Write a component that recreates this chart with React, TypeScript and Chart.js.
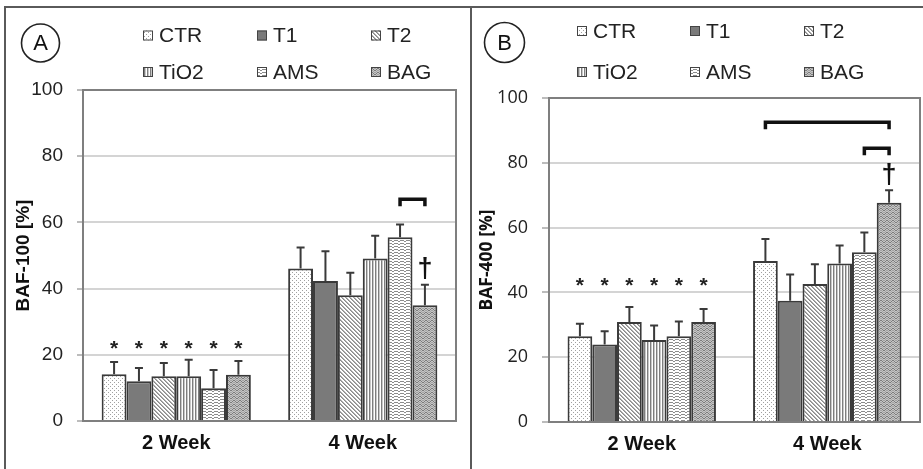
import React, { useEffect, useRef } from "react";
import { Chart, registerables } from "chart.js";

Chart.register(...registerables);

// ---------- data ----------
const categories = ["2 Week", "4 Week"];
const seriesNames = ["CTR", "T1", "T2", "TiO2", "AMS", "BAG"];
const yMin = 0;
const yMax = 100;
const yStep = 20;

// Panel A: BAF-100 [%]  (mean, SD) for [2 Week, 4 Week]
const ctrA = [14.1, 46.1];
const t1A = [12.0, 42.3];
const t2A = [13.5, 38.0];
const tio2A = [13.5, 49.1];
const amsA = [9.9, 55.5];
const bagA = [14.0, 35.0];
const ctrAsd = [3.7, 6.3];
const t1Asd = [4.0, 9.0];
const t2Asd = [4.0, 6.8];
const tio2Asd = [5.0, 6.9];
const amsAsd = [5.5, 3.9];
const bagAsd = [4.1, 6.2];

// Panel B: BAF-400 [%]
const ctrB = [26.5, 49.7];
const t1B = [23.9, 37.4];
const t2B = [30.9, 42.6];
const tio2B = [25.3, 48.9];
const amsB = [26.5, 52.4];
const bagB = [30.9, 67.7];
const ctrBsd = [3.8, 6.8];
const t1Bsd = [4.1, 8.1];
const t2Bsd = [4.6, 6.1];
const tio2Bsd = [4.5, 5.6];
const amsBsd = [4.5, 6.1];
const bagBsd = [4.0, 3.8];

// significance marks
const starLevelA = 23; // "*" above every 2 Week bar
const starLevelB = 43;
const daggerA = { series: 5, category: 1, value: 46 };
const daggerB = { series: 5, category: 1, value: 76.5 };
const bracketsA = [{ from: 4, to: 5, category: 1, value: 67 }];
const bracketsB = [
  { from: 0, to: 5, category: 1, value: 92.5 },
  { from: 4, to: 5, category: 1, value: 84.5 },
];

// ---------- styles ----------
const ARIAL = '"Liberation Sans", Arial, sans-serif';
const OPEN = '"Open Sans", "Noto Sans", sans-serif';
const patternKinds = ["dots", "solid", "diag", "vert", "hwave", "zigzag"];

function makePattern(kind: string): CanvasPattern | string {
  const c = document.createElement("canvas");
  const g = c.getContext("2d")!;
  const px = (x: number, y: number, col: string) => {
    g.fillStyle = col;
    g.fillRect(x, y, 1, 1);
  };
  if (kind === "solid") return "#7a7a7a";
  if (kind === "dots") {
    c.width = 4; c.height = 4;
    g.fillStyle = "#fff"; g.fillRect(0, 0, 4, 4);
    px(0, 0, "#a0a0a0"); px(2, 2, "#a0a0a0");
  } else if (kind === "diag") {
    c.width = 4; c.height = 4;
    g.fillStyle = "#fff"; g.fillRect(0, 0, 4, 4);
    for (let i = 0; i < 4; i++) { px(i, i, "#8a8a8a"); px((i + 1) % 4, i, "#b0b0b0"); }
  } else if (kind === "vert") {
    c.width = 3; c.height = 1;
    g.fillStyle = "#fff"; g.fillRect(0, 0, 3, 1);
    px(0, 0, "#7e7e7e"); px(1, 0, "#c8c8c8");
  } else if (kind === "hwave") {
    c.width = 6; c.height = 3;
    g.fillStyle = "#fff"; g.fillRect(0, 0, 6, 3);
    const off = [0, 0, 1, 1, 0, 0];
    for (let x = 0; x < 6; x++) px(x, off[x], "#8c8c8c");
  } else {
    c.width = 6; c.height = 4;
    g.fillStyle = "#c4c4c4"; g.fillRect(0, 0, 6, 4);
    const off = [0, 1, 2, 2, 1, 0];
    for (let x = 0; x < 6; x++) { px(x, off[x], "#7c7c7c"); px(x, (off[x] + 2) % 4, "#a4a4a4"); }
  }
  return g.createPattern(c, "repeat")!;
}

type Panel = {
  values: number[][];
  errors: number[][];
  yTitle: string;
  letter: string;
  starLevel: number;
  dagger: { series: number; category: number; value: number };
  brackets: { from: number; to: number; category: number; value: number }[];
  style: any;
};

const panelA: Panel = {
  values: [ctrA, t1A, t2A, tio2A, amsA, bagA],
  errors: [ctrAsd, t1Asd, t2Asd, tio2Asd, amsAsd, bagAsd],
  yTitle: "BAF-100 [%]",
  letter: "A",
  starLevel: starLevelA,
  dagger: daggerA,
  brackets: bracketsA,
  style: {
    left: 0, width: 470,
    padTop: 90, padRight: 14, yWidth: 83, xHeight: 48,
    tickFont: { family: ARIAL, size: 19 }, tickPad: 14, tickLen: 6,
    titleFont: { family: ARIAL, size: 19, weight: "bold" }, titlePad: 12,
    legendX: [143, 257, 371], legendY: [35.5, 72],
    circle: { x: 40.5, y: 43, r: 19 },
  },
};

const panelB: Panel = {
  values: [ctrB, t1B, t2B, tio2B, amsB, bagB],
  errors: [ctrBsd, t1Bsd, t2Bsd, tio2Bsd, amsBsd, bagBsd],
  yTitle: "BAF-400 [%]",
  letter: "B",
  starLevel: starLevelB,
  dagger: daggerB,
  brackets: bracketsB,
  style: {
    left: 473, width: 450,
    padTop: 98, padRight: 3, yWidth: 76, xHeight: 47,
    tickFont: { family: OPEN, size: 18 }, tickPad: 14, tickLen: 7,
    titleFont: { family: OPEN, size: 17.5, weight: "bold" }, titlePad: 4,
    legendX: [104, 217, 331], legendY: [31, 72],
    circle: { x: 31.5, y: 42.5, r: 20 },
  },
};

function buildChart(canvas: HTMLCanvasElement, p: Panel) {
  const s = p.style;
  const datasets = seriesNames.map((name, i) => ({
    label: name,
    data: p.values[i],
    backgroundColor: makePattern(patternKinds[i]) as any,
    borderColor: "#3a3a3a",
    borderWidth: 2,
    categoryPercentage: 0.8,
    barPercentage: 1.0,
  }));

  const decorations = {
    id: "decorations",
    afterDatasetsDraw(chart: any) {
      const ctx = chart.ctx;
      const y = chart.scales.y;
      const area = chart.chartArea;
      ctx.save();
      // plot-area frame (top + right)
      ctx.strokeStyle = "#7f7f7f";
      ctx.lineWidth = 2;
      ctx.beginPath();
      ctx.moveTo(area.left, area.top);
      ctx.lineTo(area.right, area.top);
      ctx.lineTo(area.right, area.bottom);
      ctx.stroke();
      // error bars
      ctx.strokeStyle = "#3a3a3a";
      ctx.lineWidth = 2;
      p.values.forEach((vals, i) => {
        const meta = chart.getDatasetMeta(i);
        vals.forEach((v, j) => {
          const bar = meta.data[j];
          const top = y.getPixelForValue(v + p.errors[i][j]);
          ctx.beginPath();
          ctx.moveTo(bar.x, bar.y);
          ctx.lineTo(bar.x, top);
          ctx.moveTo(bar.x - 4, top);
          ctx.lineTo(bar.x + 4, top);
          ctx.stroke();
        });
      });
      // stars above 2 Week bars
      ctx.fillStyle = "#222";
      ctx.font = `bold 21px ${ARIAL}`;
      ctx.textAlign = "center";
      ctx.textBaseline = "middle";
      p.values.forEach((_, i) => {
        const bar = chart.getDatasetMeta(i).data[0];
        ctx.fillText("*", bar.x, y.getPixelForValue(p.starLevel) + 4);
      });
      // dagger
      const db = chart.getDatasetMeta(p.dagger.series).data[p.dagger.category];
      ctx.fillStyle = "#111";
      ctx.font = `bold 27px ${ARIAL}`;
      ctx.fillText("\u2020", db.x, y.getPixelForValue(p.dagger.value) + 1);
      // brackets
      ctx.strokeStyle = "#111";
      ctx.lineWidth = 3.5;
      ctx.lineJoin = "miter";
      p.brackets.forEach((b) => {
        const x1 = chart.getDatasetMeta(b.from).data[b.category].x;
        const x2 = chart.getDatasetMeta(b.to).data[b.category].x;
        const yy = y.getPixelForValue(b.value);
        ctx.beginPath();
        ctx.moveTo(x1, yy + 7);
        ctx.lineTo(x1, yy);
        ctx.lineTo(x2, yy);
        ctx.lineTo(x2, yy + 7);
        ctx.stroke();
      });
      ctx.restore();
    },
    afterDraw(chart: any) {
      const ctx = chart.ctx;
      ctx.save();
      // legend
      ctx.font = `21px ${ARIAL}`;
      ctx.textAlign = "left";
      ctx.textBaseline = "middle";
      seriesNames.forEach((name, i) => {
        const bx = s.legendX[i % 3];
        const by = s.legendY[Math.floor(i / 3)];
        ctx.fillStyle = chart.data.datasets[i].backgroundColor;
        ctx.fillRect(bx, by - 5, 10, 10);
        ctx.strokeStyle = "#444";
        ctx.lineWidth = 1;
        ctx.strokeRect(bx + 0.5, by - 4.5, 9, 9);
        ctx.fillStyle = "#222";
        ctx.fillText(name, bx + 16, by + 1);
      });
      // panel letter
      ctx.strokeStyle = "#222";
      ctx.lineWidth = 1.6;
      ctx.beginPath();
      ctx.arc(s.circle.x, s.circle.y, s.circle.r, 0, Math.PI * 2);
      ctx.stroke();
      ctx.fillStyle = "#111";
      ctx.font = `22px ${ARIAL}`;
      ctx.textAlign = "center";
      ctx.fillText(p.letter, s.circle.x, s.circle.y + 1);
      ctx.restore();
    },
  };

  return new Chart(canvas, {
    type: "bar",
    data: { labels: categories, datasets },
    plugins: [decorations],
    options: {
      animation: false,
      responsive: false,
      layout: { padding: { top: s.padTop, right: s.padRight, left: 0, bottom: 0 } },
      plugins: { legend: { display: false }, tooltip: { enabled: false } },
      scales: {
        x: {
          grid: { display: false, drawTicks: false },
          border: { display: true, color: "#7f7f7f", width: 2 },
          ticks: { color: "#111", padding: 10, font: { family: ARIAL, size: 20, weight: "bold" } },
          afterFit: (sc: any) => { sc.height = s.xHeight; },
        },
        y: {
          min: yMin,
          max: yMax,
          ticks: { stepSize: yStep, color: "#222", padding: s.tickPad, font: s.tickFont },
          grid: { color: "#d4d4d4", lineWidth: 2, tickLength: s.tickLen, tickColor: "#a6a6a6", tickWidth: 1.5 },
          border: { display: true, color: "#7f7f7f", width: 2 },
          title: { display: true, text: p.yTitle, color: "#111", font: s.titleFont, padding: { top: s.titlePad, bottom: 0 } },
          afterFit: (sc: any) => { sc.width = s.yWidth; },
        },
      },
    },
  } as any);
}

function PanelChart({ panel }: { panel: Panel }) {
  const ref = useRef<HTMLCanvasElement>(null);
  useEffect(() => {
    const chart = buildChart(ref.current!, panel);
    return () => chart.destroy();
  }, [panel]);
  const s = panel.style;
  return (
    <canvas
      ref={ref}
      width={s.width}
      height={469}
      style={{ position: "absolute", left: s.left, top: 0, width: s.width, height: 469 }}
    />
  );
}

export default function App() {
  return (
    <div style={{ position: "fixed", left: 0, top: 0, width: 923, height: 469, background: "#fff", overflow: "hidden" }}>
      <div style={{ position: "absolute", left: 4, top: 6, width: 1000, height: 1000, borderTop: "2px solid #5a5a5a", borderLeft: "2px solid #5a5a5a" }} />
      <div style={{ position: "absolute", left: 470, top: 6, width: 2, height: 500, background: "#5a5a5a" }} />
      <PanelChart panel={panelA} />
      <PanelChart panel={panelB} />
    </div>
  );
}
